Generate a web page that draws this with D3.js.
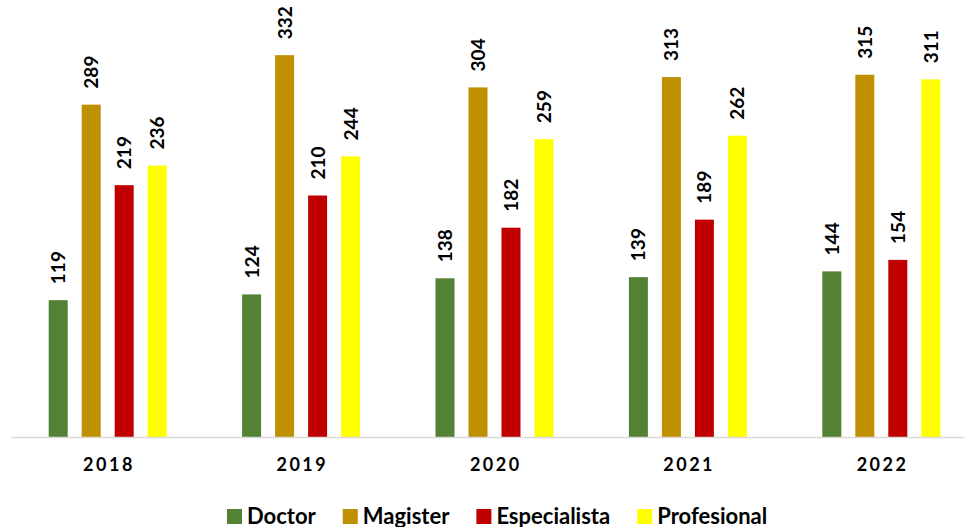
<!DOCTYPE html>
<html><head><meta charset="utf-8">
<script src="https://cdn.jsdelivr.net/npm/d3@7"></script>
<style>html,body{margin:0;padding:0;background:#fff;}svg{display:block;}</style>
</head><body>
<svg id="chart" width="964" height="527"></svg>
<script>
const years = ["2018", "2019", "2020", "2021", "2022"];
const seriesNames = ["Doctor", "Magister", "Especialista", "Profesional"];
const doctor = [119, 124, 138, 139, 144];
const magister = [289, 332, 304, 313, 315];
const especialista = [219, 210, 182, 189, 154];
const profesional = [236, 244, 259, 262, 311];
const colors = ["#548235", "#bf9000", "#c00000", "#ffff00"];

const seriesValues = [doctor, magister, especialista, profesional];
const font = "Lato, 'Open Sans', sans-serif";
const svg = d3.select("#chart");

const x0 = d3.scaleBand().domain(years).range([11, 978]).paddingInner(0).paddingOuter(0);
const x1 = d3.scaleBand().domain(seriesNames).range([0, 132]).paddingInner(14/33).paddingOuter(7/33);
const y = d3.scaleLinear().domain([0, 380]).range([437, 0]);

const groupOffset = d => x0(d) + x0.bandwidth() / 2 - 66;

const rows = [];
years.forEach((yr, i) => {
  seriesNames.forEach((s, j) => rows.push({ yr, s, j, v: seriesValues[j][i] }));
});

const g = svg.append("g");
g.selectAll("rect.bar").data(rows).join("rect")
  .attr("class", "bar")
  .attr("x", d => groupOffset(d.yr) + x1(d.s))
  .attr("width", x1.bandwidth())
  .attr("y", d => y(d.v))
  .attr("height", d => y(0) - y(d.v))
  .attr("fill", d => colors[d.j]);

g.selectAll("text.lbl").data(rows).join("text")
  .attr("class", "lbl")
  .attr("transform", d => {
    const cx = groupOffset(d.yr) + x1(d.s) + x1.bandwidth() / 2 + 7;
    const cy = y(d.v) - 16;
    return `translate(${cx},${cy}) rotate(-90)`;
  })
  .attr("text-anchor", "start")
  .style("font-family", font)
  .style("font-weight", "bold")
  .style("font-size", "19px")
  .attr("fill", "#000")
  .text(d => d.v);

// axis
const xAxis = d3.axisBottom(x0).tickSize(0).tickPadding(0);
const ax = svg.append("g").attr("transform", "translate(0,437)").call(xAxis);
ax.select(".domain").remove();
svg.append("line").attr("x1", 11).attr("x2", 964).attr("y1", 437.5).attr("y2", 437.5)
  .attr("stroke", "#d9d9d9").attr("stroke-width", 1.5);
ax.selectAll(".tick text")
  .attr("y", 34).attr("dy", 0)
  .attr("dx", "1.25px")
  .style("font-family", font)
  .style("font-weight", "bold")
  .style("font-size", "18px")
  .style("letter-spacing", "2.5px")
  .attr("fill", "#000");

// legend
const leg = svg.append("g").attr("transform", "translate(227,0)");
let xpos = 0;
seriesNames.forEach((s, j) => {
  leg.append("rect").attr("x", xpos).attr("y", 509).attr("width", 15).attr("height", 15).attr("fill", colors[j]);
  const t = leg.append("text").attr("x", xpos + 20).attr("y", 524)
    .style("font-family", font).style("font-weight", "bold").style("font-size", "22px")
    .attr("fill", "#000").text(s);
  const w = t.node().getComputedTextLength();
  xpos += 20 + w + 27;
});
</script>
</body></html>
